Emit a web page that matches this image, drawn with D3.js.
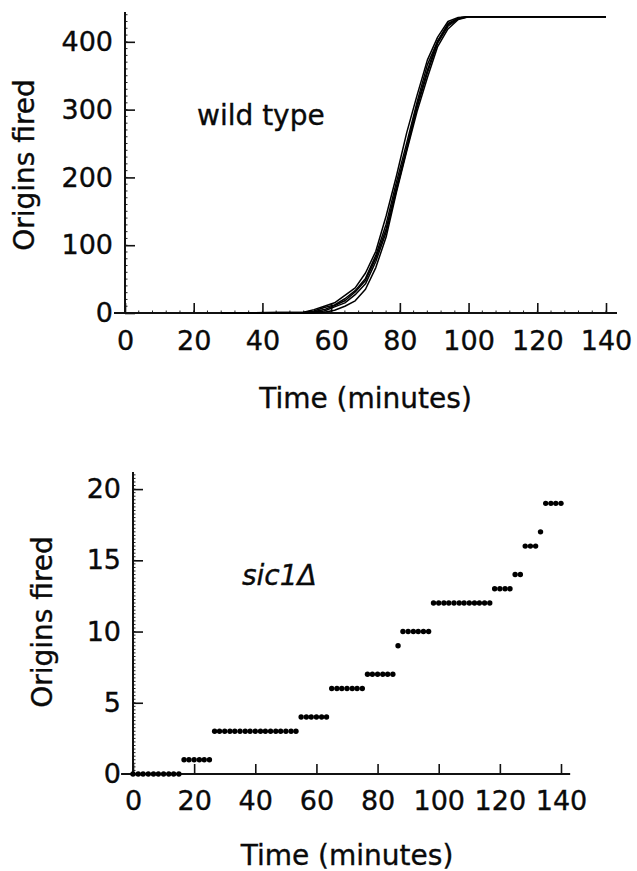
<!DOCTYPE html>
<html>
<head>
<meta charset="utf-8">
<script src="https://cdn.jsdelivr.net/npm/d3@7"></script>
<style>
	body { margin: 0; background: #fff; }
	svg text { font-family: "DejaVu Sans", sans-serif; fill: #0a0a0a; stroke: #0a0a0a; stroke-width: 0.35px; }
</style>
</head>
<body>
<svg id="chart" width="637" height="871"></svg>
<script>
// wild type: cumulative origins fired, several simulation runs
var wtTimes = [28, 52, 55, 58, 61, 64, 67, 70, 73, 76, 79, 82, 85, 88, 91, 94, 97, 100, 140];
var wtRun1 = [0, 0, 2, 5, 11, 18, 31, 48, 81, 124, 186, 244, 306, 358, 401, 425, 435, 437, 437];
var wtRun2 = [0, 1, 5, 10, 15, 26, 37, 59, 91, 143, 202, 266, 321, 373, 407, 430, 436, 437, 437];
var wtRun3 = [0, 0, 0, 1, 4, 10, 18, 35, 67, 112, 178, 239, 297, 347, 393, 419, 433, 437, 437];
var wtRun4 = [0, 1, 3, 8, 12, 21, 33, 51, 85, 131, 193, 251, 311, 366, 401, 427, 435, 437, 437];
var wtRun5 = [0, 0, 1, 3, 9, 15, 27, 43, 76, 119, 181, 241, 303, 354, 398, 423, 434, 437, 437];
var wtRuns = [wtRun1, wtRun2, wtRun3, wtRun4, wtRun5];

// sic1 delta: origins fired per time point
var sicTimes = [0, 1.7, 3.3, 5, 6.7, 8.3, 10, 11.7, 13.3, 15,
	16.7, 18.3, 20, 21.7, 23.3, 25,
	26.7, 28.3, 30, 31.7, 33.3, 35, 36.7, 38.3, 40, 41.7, 43.3, 45, 46.7, 48.3, 50, 51.7, 53.3,
	55, 56.7, 58.3, 60, 61.7, 63.3,
	65, 66.7, 68.3, 70, 71.7, 73.3, 75,
	76.7, 78.3, 80, 81.7, 83.3, 85,
	86.7,
	88.3, 90, 91.7, 93.3, 95, 96.7,
	98.3, 100, 101.7, 103.3, 105, 106.7, 108.3, 110, 111.7, 113.3, 115, 116.7,
	118.3, 120, 121.7, 123.3,
	125, 126.7,
	128.3, 130, 131.7,
	133.3,
	135, 136.7, 138.3, 140];
var sicFired = [0, 0, 0, 0, 0, 0, 0, 0, 0, 0,
	1, 1, 1, 1, 1, 1,
	3, 3, 3, 3, 3, 3, 3, 3, 3, 3, 3, 3, 3, 3, 3, 3, 3,
	4, 4, 4, 4, 4, 4,
	6, 6, 6, 6, 6, 6, 6,
	7, 7, 7, 7, 7, 7,
	9,
	10, 10, 10, 10, 10, 10,
	12, 12, 12, 12, 12, 12, 12, 12, 12, 12, 12, 12,
	13, 13, 13, 13,
	14, 14,
	16, 16, 16,
	17,
	19, 19, 19, 19];

var xTicks = [0, 20, 40, 60, 80, 100, 120, 140];
var wtYTicks = [0, 100, 200, 300, 400];
var sicYTicks = [0, 5, 10, 15, 20];

var svg = d3.select("#chart");

function drawAxes(g, x, y, o) {
	// minor ticks
	if (o.xMinor) {
		g.append("g").selectAll("line")
			.data(d3.range(0, 140.1, o.xMinor))
			.enter().append("line")
			.attr("x1", function(d) { return x(d); })
			.attr("x2", function(d) { return x(d); })
			.attr("y1", y(0)).attr("y2", y(0) - 2.5)
			.style("stroke", "#222").style("stroke-width", 1);
	}
	g.append("g").selectAll("line")
		.data(d3.range(0, y.domain()[1], o.yMinor))
		.enter().append("line")
		.attr("x1", x(0)).attr("x2", x(0) + 2.5)
		.attr("y1", function(d) { return y(d); })
		.attr("y2", function(d) { return y(d); })
		.style("stroke", "#222").style("stroke-width", 1);

	var xa = g.append("g")
		.attr("transform", "translate(0," + y(0) + ")")
		.call(d3.axisBottom(x).tickValues(xTicks).tickSizeInner(-10).tickSizeOuter(0).tickPadding(o.xPad));
	var ya = g.append("g")
		.attr("transform", "translate(" + x(0) + ",0)")
		.call(d3.axisLeft(y).tickValues(o.yTicks).tickSizeInner(-10).tickSizeOuter(0).tickPadding(12));

	[xa, ya].forEach(function(a) {
		a.select(".domain").remove();
		a.selectAll(".tick line").style("stroke", "#111").style("stroke-width", 1.6);
		a.selectAll("text").style("font-size", "27px").style("font-family", "DejaVu Sans");
	});

	// axis lines, x one runs a bit past both ends
	g.append("line")
		.attr("x1", x(o.xFrom)).attr("x2", x(o.xTo))
		.attr("y1", y(0)).attr("y2", y(0))
		.style("stroke", "#111").style("stroke-width", 2);
	g.append("line")
		.attr("x1", x(0)).attr("x2", x(0))
		.attr("y1", y(0)).attr("y2", y.range()[1])
		.style("stroke", "#111").style("stroke-width", 2);

	g.append("text")
		.attr("x", (x(0) + x(140)) / 2)
		.attr("y", o.titleY)
		.attr("text-anchor", "middle")
		.style("font-size", "28px")
		.text("Time (minutes)");
	g.append("text")
		.attr("transform", "translate(" + o.yTitleX + "," + o.yTitleY + ") rotate(-90)")
		.attr("text-anchor", "middle")
		.style("font-size", "28px")
		.text("Origins fired");
}

/* ------- WILD TYPE -------*/
var xTop = d3.scaleLinear().domain([0, 140]).range([125, 606]);
var yTop = d3.scaleLinear().domain([0, 444]).range([313, 12]);
var topG = svg.append("g");

drawAxes(topG, xTop, yTop, {
	xMinor: 4, yMinor: 10, xPad: 18, yTicks: wtYTicks,
	xFrom: -3.2, xTo: 143.2, titleY: 408, yTitleX: 34, yTitleY: 165
});

var line = d3.line()
	.x(function(d) { return xTop(d[0]); })
	.y(function(d) { return yTop(d[1]); })
	.curve(d3.curveLinear);

topG.append("g").selectAll("path")
	.data(wtRuns)
	.enter().append("path")
	.attr("d", function(run) {
		return line(run.map(function(v, i) { return [wtTimes[i], v]; }));
	})
	.style("fill", "none")
	.style("stroke", "#000")
	.style("stroke-width", 1.5)
	.style("stroke-linejoin", "round");

topG.append("text")
	.attr("x", 197).attr("y", 125)
	.style("font-size", "28px")
	.text("wild type");

/* ------- SIC1 DELTA -------*/
var xBot = d3.scaleLinear().domain([0, 140]).range([133, 561]);
var yBot = d3.scaleLinear().domain([0, 21.2]).range([774, 472]);
var botG = svg.append("g");

drawAxes(botG, xBot, yBot, {
	xMinor: 0, yMinor: 0.25, xPad: 17, yTicks: sicYTicks,
	xFrom: -3.9, xTo: 143, titleY: 865, yTitleX: 52, yTitleY: 622
});

botG.append("g").selectAll("circle")
	.data(sicTimes)
	.enter().append("circle")
	.attr("cx", function(d) { return xBot(d); })
	.attr("cy", function(d, i) { return yBot(sicFired[i]); })
	.attr("r", 2.7)
	.style("fill", "#000");

botG.append("text")
	.attr("x", 242).attr("y", 585)
	.style("font-size", "28px")
	.style("font-style", "italic")
	.text("sic1Δ");
</script>
</body>
</html>
